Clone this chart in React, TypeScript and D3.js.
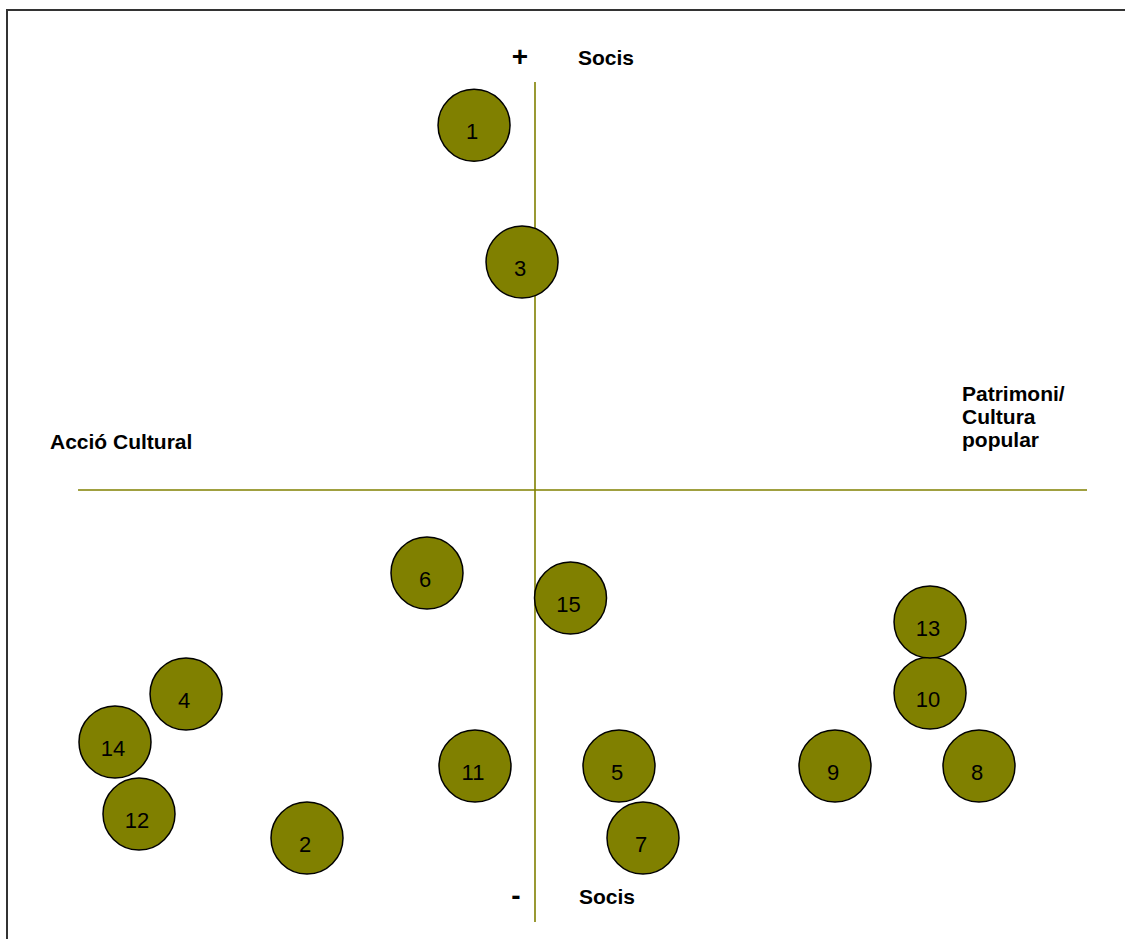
import React from "react";
import * as d3 from "d3";

// Perceptual map data: x = Acció Cultural (-) ↔ Patrimoni/Cultura popular (+), y = Socis (- ↔ +)
const ids = ["1", "2", "3", "4", "5", "6", "7", "8", "9", "10", "11", "12", "13", "14", "15"];
const xValues = [-1.27, -4.75, -0.27, -7.27, 1.75, -2.25, 2.25, 9.25, 6.25, 8.23, -1.25, -8.25, 8.23, -8.75, 0.74];
const yValues = [7.6, -7.25, 4.75, -4.25, -5.75, -1.73, -7.25, -5.75, -5.75, -4.23, -5.75, -6.75, -2.75, -5.25, -2.25];

const hAxisExtent = [-9.52, 11.5];
const vAxisExtent = [-9.0, 8.5];

const W = 1125;
const H = 939;
const OLIVE = "#808000";
const FONT = "Arial, 'Liberation Sans', sans-serif";

export default function App() {
  const x = d3.scaleLinear().domain([-10, 10]).range([55, 1015]);
  const y = d3.scaleLinear().domain([-10, 10]).range([970, 10]);
  const r = 36;

  return (
    <div style={{ position: "absolute", left: 0, top: 0 }}>
      <svg width={W} height={H} style={{ display: "block", background: "#fff" }}>
        {/* frame */}
        <line x1={6} y1={10} x2={W} y2={10} stroke="#333" strokeWidth={2} />
        <line x1={7} y1={9} x2={7} y2={H} stroke="#333" strokeWidth={2} />

        {/* axes */}
        <line x1={x(hAxisExtent[0])} x2={x(hAxisExtent[1])} y1={y(0)} y2={y(0)} stroke={OLIVE} strokeWidth={1.6} />
        <line x1={x(0)} x2={x(0)} y1={y(vAxisExtent[1])} y2={y(vAxisExtent[0])} stroke={OLIVE} strokeWidth={1.6} />

        {/* circles */}
        {ids.map((id, i) => (
          <g key={id}>
            <circle cx={x(xValues[i])} cy={y(yValues[i])} r={r} fill={OLIVE} stroke="#000" strokeWidth={1.5} />
            <text
              x={x(xValues[i]) - 2}
              y={y(yValues[i]) + 6}
              dy="0.36em"
              textAnchor="middle"
              fontFamily={FONT}
              fontSize={22}
              fill="#000"
            >
              {id}
            </text>
          </g>
        ))}

        {/* labels */}
        <g fontFamily={FONT} fill="#000">
          <text x={520} y={56} dy="0.35em" textAnchor="middle" fontSize={28} fontWeight="bold">+</text>
          <text x={578} y={65} fontSize={21} fontWeight="bold">Socis</text>
          <text x={516} y={895} dy="0.35em" textAnchor="middle" fontSize={28} fontWeight="bold">-</text>
          <text x={579} y={904} fontSize={21} fontWeight="bold">Socis</text>
          <text x={50} y={449} fontSize={21} fontWeight="bold">Acció Cultural</text>
          <text x={962} y={401} fontSize={21} fontWeight="bold">Patrimoni/</text>
          <text x={962} y={424} fontSize={21} fontWeight="bold">Cultura</text>
          <text x={962} y={447} fontSize={21} fontWeight="bold">popular</text>
        </g>
      </svg>
    </div>
  );
}
